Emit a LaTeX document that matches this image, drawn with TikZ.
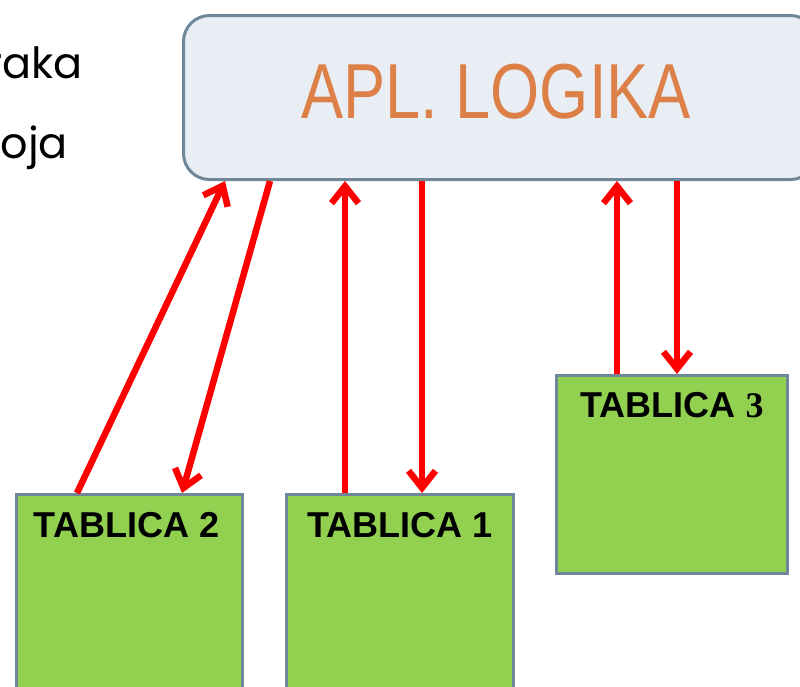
\documentclass[tikz,border=0pt]{standalone}
\usepackage{fontspec}
\setmainfont{Liberation Sans}
\newfontfamily\geofont{Poppins}
\newfontfamily\serfont{Liberation Serif}
\usetikzlibrary{positioning,arrows.meta}

\definecolor{logicfill}{HTML}{E9EEF5}
\definecolor{boxline}{HTML}{6F8799}
\definecolor{logictext}{HTML}{DD8047}
\definecolor{tabgreen}{HTML}{92D050}

\tikzset{
    logicbox/.style={draw=boxline, line width=3pt, fill=logicfill, rounded corners=26pt,
        anchor=north west, minimum width=633pt, minimum height=164pt, inner sep=0pt},
    tabbox/.style={draw=boxline, line width=3pt, fill=tabgreen, anchor=north west, inner sep=0pt},
    tabtext/.style={inner sep=0pt, anchor=north, font=\fontsize{36}{40}\selectfont\bfseries},
    sidetext/.style={anchor=base east, inner sep=0pt, font=\geofont\fontsize{43}{46}\selectfont},
    link/.style={draw=red, line width=6.5pt, -{Straight Barb[length=17pt,width=27pt]}},
}

\begin{document}
\begin{tikzpicture}[x=1pt, y=-1pt]
    % Picture frame
    \useasboundingbox (0,0) rectangle (800,686);

    % Text cut at the left margin
    \node[sidetext] (wordone) at (83,78) {raka};
    \node[sidetext] (wordtwo) at (68,158) {oja};

    % Application logic
    \node[logicbox] (logic) at (182,14) {};
    \node[font=\fontsize{78}{80}\selectfont, text=logictext, inner sep=0pt] (logiclabel) at (496,92) {\scalebox{0.81}[1]{APL. LOGIKA}};

    % Tables
    \node[tabbox, minimum width=226pt, minimum height=230pt] (tab2) at (15,493) {};
    \node[tabbox, minimum width=227pt, minimum height=230pt] (tab1) at (285,493) {};
    \node[tabbox, minimum width=231pt, minimum height=198pt] (tab3) at (555,374) {};

    \node[tabtext, below=19pt of tab2.north, xshift=-3pt] (tab2label) {TABLICA 2};
    \node[tabtext, below=19pt of tab1.north] (tab1label) {TABLICA 1};
    \node[tabtext, below=18pt of tab3.north] (tab3label) {TABLICA {\serfont 3}};

    % Requests and answers
    \draw[link] ([xshift=62pt]tab2.north west) -- ([xshift=43pt]logic.south west);
    \draw[link] ([xshift=88pt]logic.south west) -- ([xshift=167pt]tab2.north west);
    \foreach \tab/\upx/\upy/\downx/\downy in {tab1/60/163/240/137, tab3/62/435/495/122} {
        \draw[link] ([xshift=\upx pt]\tab.north west) -- ([xshift=\upy pt]logic.south west);
        \draw[link] ([xshift=\downx pt]logic.south west) -- ([xshift=\downy pt]\tab.north west);
    }
\end{tikzpicture}
\end{document}
